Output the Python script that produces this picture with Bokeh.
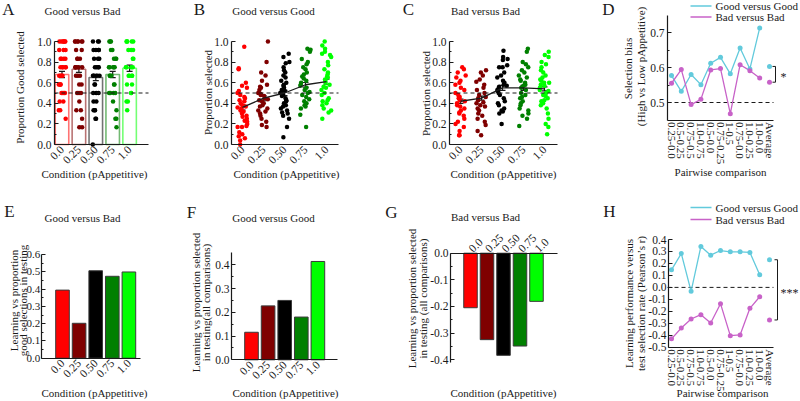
from math import pi
from bokeh.plotting import figure
from bokeh.layouts import row, column
from bokeh.models import (Range1d, FixedTicker, PrintfTickFormatter, Label,
                          Whisker, TeeHead, ColumnDataSource)
from bokeh.transform import jitter
from bokeh.embed import file_html
from bokeh.resources import INLINE

FONT = "Liberation Serif"
INK = "#1a1a1a"

# ---------------------------------------------------------------- data
conditions = ["0.0", "0.25", "0.50", "0.75", "1.0"]
cond_colors = ["#ff0000", "#7f0000", "#000000", "#008000", "#00ff00"]

# A: Good versus Bad, proportion Good selected per participant
a_c0 = [1.0, 1.0, 1.0, 1.0, 1.0, 1.0, 0.917, 0.917, 0.917, 0.833, 0.833, 0.833, 0.833,
        0.75, 0.75, 0.75, 0.75, 0.75, 0.667, 0.667, 0.667, 0.667, 0.583, 0.583, 0.583,
        0.583, 0.5, 0.5, 0.5, 0.5, 0.417, 0.417, 0.333, 0.333, 0.25]
a_c25 = [1.0, 1.0, 1.0, 1.0, 1.0, 1.0, 0.917, 0.917, 0.833, 0.833, 0.833, 0.75, 0.75,
         0.75, 0.75, 0.75, 0.667, 0.667, 0.667, 0.583, 0.583, 0.5, 0.5, 0.5, 0.417,
         0.333, 0.333, 0.25, 0.167, 0.167]
a_c50 = [1.0, 1.0, 1.0, 0.917, 0.917, 0.917, 0.917, 0.833, 0.833, 0.833, 0.75, 0.75,
         0.75, 0.75, 0.667, 0.667, 0.667, 0.667, 0.583, 0.583, 0.5, 0.5, 0.5, 0.417,
         0.417, 0.333, 0.333, 0.333, 0.25, 0.25, 0.0]
a_c75 = [1.0, 1.0, 1.0, 0.917, 0.917, 0.833, 0.833, 0.833, 0.75, 0.75, 0.75, 0.75, 0.75,
         0.667, 0.667, 0.667, 0.583, 0.583, 0.5, 0.5, 0.5, 0.5, 0.417, 0.333, 0.25,
         0.25, 0.167]
a_c100 = [1.0, 1.0, 1.0, 1.0, 1.0, 0.917, 0.917, 0.917, 0.833, 0.833, 0.75, 0.75, 0.75,
          0.75, 0.667, 0.667, 0.667, 0.667, 0.583, 0.583, 0.5, 0.5, 0.417, 0.417, 0.333]
a_means = [0.68, 0.73, 0.65, 0.68, 0.74]
a_sem = [0.03, 0.03, 0.03, 0.03, 0.03]

# B: Good versus Good, proportion selected
b_c0 = [0.95, 0.74, 0.73, 0.60, 0.57, 0.55, 0.52, 0.50, 0.48, 0.46, 0.45, 0.43, 0.42,
        0.40, 0.38, 0.37, 0.36, 0.35, 0.33, 0.32, 0.30, 0.28, 0.27, 0.25, 0.23, 0.22,
        0.20, 0.18, 0.17, 0.17, 0.12, 0.10, 0.08, 0.06, 0.04, 0.0]
b_c25 = [1.0, 0.80, 0.70, 0.67, 0.62, 0.58, 0.56, 0.55, 0.53, 0.50, 0.49, 0.48, 0.47,
         0.45, 0.44, 0.43, 0.42, 0.40, 0.38, 0.37, 0.35, 0.33, 0.32, 0.30, 0.28, 0.25,
         0.22, 0.19, 0.17]
b_c50 = [0.88, 0.85, 0.80, 0.79, 0.75, 0.72, 0.70, 0.67, 0.65, 0.62, 0.60, 0.58, 0.57,
         0.55, 0.53, 0.52, 0.50, 0.50, 0.48, 0.47, 0.45, 0.43, 0.42, 0.40, 0.38, 0.37,
         0.35, 0.33, 0.31, 0.30, 0.28, 0.25, 0.17, 0.07]
b_c75 = [0.93, 0.92, 0.90, 0.83, 0.80, 0.78, 0.75, 0.73, 0.70, 0.68, 0.66, 0.64, 0.62,
         0.60, 0.58, 0.57, 0.55, 0.53, 0.51, 0.50, 0.48, 0.46, 0.44, 0.42, 0.40, 0.38,
         0.37, 0.35, 0.29, 0.17]
b_c100 = [1.0, 0.96, 0.93, 0.90, 0.88, 0.87, 0.85, 0.80, 0.77, 0.73, 0.70, 0.68, 0.66,
          0.65, 0.63, 0.62, 0.60, 0.58, 0.56, 0.55, 0.53, 0.50, 0.48, 0.45, 0.43, 0.42,
          0.40, 0.38, 0.35, 0.33, 0.31, 0.25]
b_means = [0.36, 0.45, 0.50, 0.58, 0.61]
b_sem = [0.025, 0.025, 0.025, 0.022, 0.025]

# C: Bad versus Bad, proportion selected
c_c0 = [0.75, 0.73, 0.70, 0.67, 0.65, 0.62, 0.60, 0.58, 0.55, 0.53, 0.50, 0.48, 0.46,
        0.45, 0.43, 0.42, 0.40, 0.38, 0.37, 0.35, 0.33, 0.31, 0.30, 0.28, 0.25, 0.22,
        0.20, 0.17, 0.13, 0.09, 0.09]
c_c25 = [0.72, 0.70, 0.67, 0.63, 0.61, 0.58, 0.55, 0.53, 0.50, 0.48, 0.46, 0.45, 0.43,
         0.41, 0.40, 0.38, 0.37, 0.35, 0.33, 0.30, 0.28, 0.25, 0.22, 0.19, 0.13, 0.09]
c_c50 = [0.91, 0.85, 0.83, 0.82, 0.77, 0.75, 0.75, 0.70, 0.67, 0.65, 0.62, 0.60, 0.58,
         0.57, 0.56, 0.55, 0.53, 0.52, 0.50, 0.48, 0.45, 0.42, 0.40, 0.38, 0.35, 0.33,
         0.32, 0.30, 0.20]
c_c75 = [0.93, 0.90, 0.80, 0.78, 0.75, 0.72, 0.70, 0.67, 0.65, 0.63, 0.62, 0.60, 0.58,
         0.57, 0.55, 0.53, 0.50, 0.48, 0.46, 0.45, 0.42, 0.40, 0.38, 0.35, 0.33, 0.30,
         0.28, 0.25, 0.18]
c_c100 = [0.90, 0.87, 0.85, 0.80, 0.78, 0.75, 0.72, 0.70, 0.67, 0.65, 0.63, 0.62, 0.60,
          0.60, 0.58, 0.57, 0.55, 0.53, 0.52, 0.50, 0.48, 0.47, 0.45, 0.43, 0.42, 0.40,
          0.38, 0.35, 0.30, 0.25, 0.20, 0.17, 0.10]
c_means = [0.42, 0.45, 0.55, 0.55, 0.54]
c_sem = [0.02, 0.02, 0.025, 0.025, 0.02]

# D / H: pairwise comparisons
pairs = ["0.25-0.0", "0.5-0.25", "0.75-0.5", "1.0-0.75", "0.5-0.0", "0.75-0.25",
         "1-0.5", "0.75-0.0", "1.0-0.25", "1.0-0.0", "Average"]
d_good = [0.577, 0.532, 0.580, 0.551, 0.612, 0.629, 0.582, 0.656, 0.596, 0.713, 0.603]
d_bad = [0.555, 0.594, 0.494, 0.509, 0.593, 0.597, 0.468, 0.608, 0.591, 0.570, 0.558]

e_values = [0.394, 0.202, 0.506, 0.474, 0.499]
f_values = [0.116, 0.227, 0.250, 0.180, 0.414]
g_values = [-0.205, -0.325, -0.384, -0.349, -0.181]

h_good = [0.147, 0.283, -0.033, 0.342, 0.269, 0.308, 0.297, 0.297, 0.292, 0.106, 0.231]
h_bad = [-0.430, -0.339, -0.264, -0.228, -0.297, -0.136, -0.403, -0.397, -0.175, -0.078, -0.272]

cyan = "#62cadc"
magenta = "#c862c8"

# ---------------------------------------------------------------- helpers
idx = list(range(len(conditions)))
pidx = list(range(len(pairs)))


def make_panel(fx0, fy0, w, h, xmap, ymap, x_above=False):
    """Figure whose frame fills the whole canvas; xmap/ymap give pixel scales."""
    x0px, dx = xmap
    ypx, yval, ppu = ymap
    xr = ((fx0 - x0px) / dx, (fx0 + w - x0px) / dx)
    yr = (yval - (fy0 + h - ypx) / ppu, yval + (ypx - fy0) / ppu)
    p = figure(width=w, height=h, title=None,
               x_range=Range1d(*xr), y_range=Range1d(*yr),
               output_backend="svg", toolbar_location=None,
               x_axis_location="above" if x_above else "below",
               min_border=0, min_border_left=0, min_border_right=0,
               min_border_top=0, min_border_bottom=0)
    p.outline_line_color = None
    p.xgrid.visible = False
    p.ygrid.visible = False
    geo = dict(fx0=fx0, fy0=fy0, w=w, h=h, xmap=xmap, ymap=ymap)
    return p, geo


def px2x(geo, px):
    x0px, dx = geo["xmap"]
    return (px - x0px) / dx


def py2y(geo, py):
    ypx, yval, ppu = geo["ymap"]
    return yval + (ypx - py) / ppu


def style(p, geo, xticks, xlabels, x_orient, yticks, yminor, ax_left_px, ax_right_px,
          ybounds, x_at, xfont="11.5px", yfont="11.5px", xstand=3, ystand=3):
    xa = p.xaxis[0]
    ya = p.yaxis[0]
    for ax in (xa, ya):
        ax.axis_line_color = INK
        ax.axis_line_width = 1.2
        ax.major_label_text_font = FONT
        ax.major_label_text_color = INK
        ax.major_tick_out = 0
        ax.minor_tick_out = 0
    xa.ticker = FixedTicker(ticks=xticks)
    xa.major_label_overrides = dict(zip(xticks, xlabels))
    xa.major_label_orientation = x_orient
    xa.major_tick_line_color = None
    xa.minor_tick_line_color = None
    xa.major_label_text_font_size = xfont
    xa.major_label_standoff = xstand
    xa.fixed_location = x_at
    xa.bounds = (px2x(geo, ax_left_px), px2x(geo, ax_right_px))
    ya.ticker = FixedTicker(ticks=yticks, minor_ticks=yminor)
    ya.formatter = PrintfTickFormatter(format="%.1f")
    ya.major_tick_in = 4
    ya.minor_tick_in = 2
    ya.major_tick_line_color = INK
    ya.minor_tick_line_color = INK
    ya.major_label_text_font_size = yfont
    ya.major_label_standoff = ystand
    ya.fixed_location = px2x(geo, ax_left_px)
    ya.bounds = ybounds


def add_text(p, geo, wx, wy, text, size="11px", angle=0.0, align="center"):
    p.add_layout(Label(x=wx - geo["fx0"], y=geo["fy0"] + geo["h"] - wy,
                       x_units="screen", y_units="screen",
                       text=text, text_font=FONT, text_font_size=size,
                       text_align=align, text_baseline="middle", angle=angle,
                       text_color=INK))


def hline(p, geo, px0, px1, yv):
    p.segment(x0=[px2x(geo, px0)], x1=[px2x(geo, px1)], y0=[yv], y1=[yv],
              line_color=INK, line_dash="4 3", line_width=1)


def errbars(p, means, sems):
    src = ColumnDataSource(dict(base=idx,
                                lower=[m - s for m, s in zip(means, sems)],
                                upper=[m + s for m, s in zip(means, sems)]))
    p.add_layout(Whisker(source=src, base="base", lower="lower", upper="upper",
                         line_color=INK, line_width=1.2,
                         upper_head=TeeHead(size=6, line_color=INK, line_width=1.2),
                         lower_head=TeeHead(size=6, line_color=INK, line_width=1.2)))


def dots(p, groups, width):
    for i, vals in enumerate(groups):
        src = ColumnDataSource(dict(x=[i] * len(vals), y=vals))
        p.scatter(x=jitter("x", width=width, distribution="uniform"), y="y", source=src,
                  size=4.5, fill_color=cond_colors[i], line_color=None)


cat_yticks = [0.0, 0.2, 0.4, 0.6, 0.8, 1.0]
cat_yminor = [0.1, 0.3, 0.5, 0.7, 0.9]

R1, H1 = 0, 195
R2, H2 = 195, 205

# ---------------------------------------------------------------- A
pA, gA = make_panel(0, R1, 190, H1, (61.5, 16.9), (144, 0.0, 103))
style(pA, gA, idx, conditions, pi / 4, cat_yticks, cat_yminor, 54, 148, (0, 1), 0.0)
pA.vbar(x=idx, top=a_means, width=0.8, fill_color=None, line_color=cond_colors,
        line_alpha=0.55, line_width=1.6)
dots(pA, [a_c0, a_c25, a_c50, a_c75, a_c100], 0.45)
hline(pA, gA, 54, 148, 0.5)
errbars(pA, a_means, a_sem)
add_text(pA, gA, 8, 9, "A", size="17px")
add_text(pA, gA, 82, 10, "Good versus Bad")
add_text(pA, gA, 94, 173, "Condition (pAppetitive)")
add_text(pA, gA, 19, 87, "Proportion Good selected", angle=pi / 2)

# ---------------------------------------------------------------- B
pB, gB = make_panel(190, R1, 210, H1, (242, 21), (144, 0.0, 103))
style(pB, gB, idx, conditions, pi / 4, cat_yticks, cat_yminor, 231, 338, (0, 1), 0.0)
dots(pB, [b_c0, b_c25, b_c50, b_c75, b_c100], 0.5)
hline(pB, gB, 231, 338, 0.5)
pB.line(x=idx, y=b_means, line_color=INK, line_width=1.3)
errbars(pB, b_means, b_sem)
add_text(pB, gB, 199, 9, "B", size="17px")
add_text(pB, gB, 273, 10, "Good versus Good")
add_text(pB, gB, 286, 173, "Condition (pAppetitive)")
add_text(pB, gB, 207, 92, "Proportion selected", angle=pi / 2)

# ---------------------------------------------------------------- C
pC, gC = make_panel(400, R1, 198, H1, (460, 21), (144, 0.0, 103))
style(pC, gC, idx, conditions, pi / 4, cat_yticks, cat_yminor, 449, 557, (0, 1), 0.0)
dots(pC, [c_c0, c_c25, c_c50, c_c75, c_c100], 0.5)
hline(pC, gC, 449, 557, 0.5)
pC.line(x=idx, y=c_means, line_color=INK, line_width=1.3)
errbars(pC, c_means, c_sem)
add_text(pC, gC, 408, 9, "C", size="17px")
add_text(pC, gC, 485, 10, "Bad versus Bad")
add_text(pC, gC, 503, 173, "Condition (pAppetitive)")
add_text(pC, gC, 425, 93, "Proportion selected", angle=pi / 2)


# ---------------------------------------------------------------- D / H helper
def pair_panel(p, geo, good, bad, zero, leg_rows, bracket_px, star_xy, star_text):
    hline(p, geo, 667, 773, zero)
    p.line(x=pidx[:10], y=good[:10], line_color=cyan, line_width=1.3)
    p.line(x=pidx[:10], y=bad[:10], line_color=magenta, line_width=1.3)
    p.scatter(x=pidx, y=good, size=5, fill_color=cyan, line_color=None)
    p.scatter(x=pidx, y=bad, size=5, fill_color=magenta, line_color=None)
    bx0, bx1 = px2x(geo, bracket_px[0]), px2x(geo, bracket_px[1])
    p.line(x=[bx0, bx1, bx1, bx0], y=[good[10], good[10], bad[10], bad[10]],
           line_color=INK, line_width=1)
    add_text(p, geo, star_xy[0], star_xy[1], star_text, size="12px")
    for (wy, col, name) in zip(leg_rows, [cyan, magenta], ["Good versus Good", "Bad versus Bad"]):
        yv = py2y(geo, wy)
        p.segment(x0=[px2x(geo, 690)], x1=[px2x(geo, 711)], y0=[yv], y1=[yv],
                  line_color=col, line_width=1.5)
        add_text(p, geo, 715, wy, name, size="11px", align="left")


pD, gD = make_panel(598, R1, 202, H1, (671, 9.8), (102, 0.5, 350))
style(pD, gD, pidx, pairs, "vertical", [0.5, 0.6, 0.7], [0.55, 0.65], 667, 773,
      (0.45, 0.75), 0.45, xfont="11px", xstand=2)
pair_panel(pD, gD, d_good, d_bad, 0.5, [5.5, 16.5], (772, 775), (783, 76), "*")
add_text(pD, gD, 608, 9, "D", size="17px")
add_text(pD, gD, 720, 171, "Pairwise comparison")
add_text(pD, gD, 627, 68, "Selection bias", angle=pi / 2)
add_text(pD, gD, 640, 66, "(High vs Low pAppetitive)", angle=pi / 2)

# ---------------------------------------------------------------- E
pE, gE = make_panel(0, R2, 185, H2, (62, 16.6), (357.7, 0.0, 172.8))
style(pE, gE, idx, conditions, pi / 4, [0.0, 0.1, 0.2, 0.3, 0.4, 0.5, 0.6],
      [0.05, 0.15, 0.25, 0.35, 0.45, 0.55], 40.7, 140, (0, 0.6), 0.0,
      yfont="11px", ystand=1)
pE.vbar(x=idx, top=e_values, width=0.82, fill_color=cond_colors, line_color="#3a3a3a", line_width=1)
add_text(pE, gE, 9, 211, "E", size="17px")
add_text(pE, gE, 82, 217, "Good versus Bad")
add_text(pE, gE, 94, 392, "Condition (pAppetitive)")
add_text(pE, gE, 13.5, 300, "Learning vs proportion", angle=pi / 2)
add_text(pE, gE, 22.5, 300, "good selections in testing", angle=pi / 2)

# ---------------------------------------------------------------- F
pF, gF = make_panel(185, R2, 198, H2, (251, 16.6), (359.3, 0.0, 237.5))
style(pF, gF, idx, conditions, pi / 4, [0.0, 0.1, 0.2, 0.3, 0.4],
      [0.05, 0.15, 0.25, 0.35], 231, 337, (0, 0.45), 0.0, ystand=2)
pF.vbar(x=idx, top=f_values, width=0.82, fill_color=cond_colors, line_color="#3a3a3a", line_width=1)
add_text(pF, gF, 191, 212, "F", size="17px")
add_text(pF, gF, 273, 217, "Good versus Good")
add_text(pF, gF, 285, 392, "Condition (pAppetitive)")
add_text(pF, gF, 195.5, 302, "Learning vs proportion selected", angle=pi / 2)
add_text(pF, gF, 205.5, 302, "in testing(all comparisons)", angle=pi / 2)

# ---------------------------------------------------------------- G
pG, gG = make_panel(383, R2, 215, H2, (470, 16.5), (252.7, 0.0, 266), x_above=True)
style(pG, gG, idx, conditions, pi / 4, [0.0, -0.1, -0.2, -0.3, -0.4],
      [-0.05, -0.15, -0.25, -0.35], 450, 557, (-0.41, 0), 0.0, ystand=2)
pG.vbar(x=idx, top=g_values, bottom=0, width=0.82, fill_color=cond_colors,
        line_color="#3a3a3a", line_width=1)
add_text(pG, gG, 391, 212, "G", size="17px")
add_text(pG, gG, 485, 216, "Bad versus Bad")
add_text(pG, gG, 503, 392, "Condition (pAppetitive)")
add_text(pG, gG, 411, 298, "Learning vs proportion selected", angle=pi / 2)
add_text(pG, gG, 422, 298, "in testing (all comparisons)", angle=pi / 2)

# ---------------------------------------------------------------- H
pH, gH = make_panel(598, R2, 202, H2, (671, 9.8), (286.9, 0.0, 119.7))
style(pH, gH, pidx, pairs, "vertical", [0.4, 0.3, 0.2, 0.1, 0.0, -0.1, -0.2, -0.3, -0.4, -0.5], [],
      668, 773, (-0.5, 0.4), -0.5, xfont="11px", xstand=2, ystand=2)
pair_panel(pH, gH, h_good, h_bad, 0.0, [207, 219], (774, 777), (789, 292), "***")
add_text(pH, gH, 609, 211, "H", size="17px")
add_text(pH, gH, 722, 392, "Pairwise comparison")
add_text(pH, gH, 628, 303, "Learning performance versus", angle=pi / 2)
add_text(pH, gH, 640, 303, "test selection rate (Pearson\u2019s r)", angle=pi / 2)

layout = column(row(pA, pB, pC, pD), row(pE, pF, pG, pH))
open("out.html", "w").write(file_html(layout, INLINE))
